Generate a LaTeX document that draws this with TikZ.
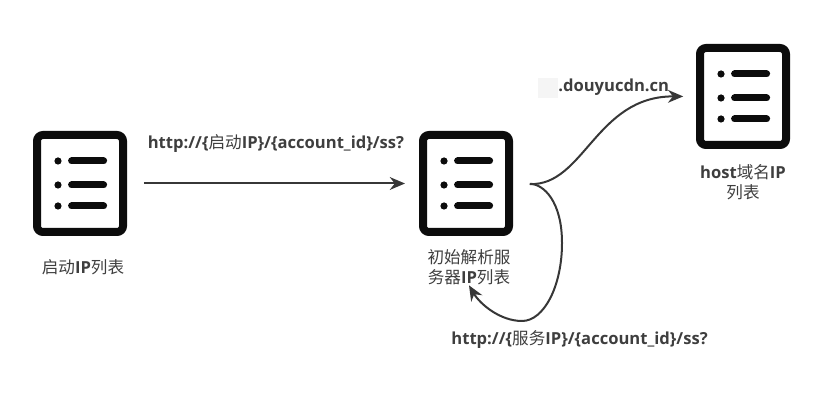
\documentclass[tikz,border=0pt]{standalone}
\usepackage{fontspec}
\setmainfont{Open Sans}
\newfontfamily\cjk[BoldFont={Noto Sans CJK SC}]{Noto Sans CJK SC}
\usetikzlibrary{arrows.meta, positioning, calc}
\definecolor{IconInk}{RGB}{12, 12, 12}
\definecolor{LineInk}{RGB}{55, 55, 55}
\definecolor{TextInk}{RGB}{62, 62, 62}
\newcommand{\zh}[1]{{\cjk #1}}
\newcommand{\listrows}[1]{%
    \foreach \rowy in {0.5625, -0.0375, -0.5625} {
        \fill[IconInk] ($(#1.center)+(-0.55,\rowy)$) circle (0.09);
        \draw[bar] ($(#1.center)+(-0.21,\rowy)$) -- ($(#1.center)+(0.59,\rowy)$);
    }}

\begin{document}
\begin{tikzpicture}[
            iconbox/.style={rectangle, rounded corners=0.15cm, draw=IconInk, line width=0.2cm,
                        minimum width=2.15cm, minimum height=2.425cm, fill=white},
            bar/.style={IconInk, line width=0.175cm, line cap=round},
            caption/.style={text=TextInk, align=center, inner sep=0pt,
                        font=\fontsize{11.8}{14.4}\selectfont\bfseries},
            urltext/.style={text=TextInk, inner sep=0pt, font=\fontsize{11.8}{14}\selectfont\bfseries},
            arrow/.style={-{Stealth[length=0.38cm, width=0.32cm]}, line width=0.05cm, LineInk}
        ]
            \useasboundingbox (0,0) rectangle (20.7,10.05);

            \node[iconbox] (startlist) at (2,5.4625) {};
            \node[iconbox, right=7.3cm of startlist] (initlist) {};
            \node[iconbox, right=4.575cm of initlist, yshift=2.175cm] (hostlist) {};
            \listrows{startlist}
            \listrows{initlist}
            \listrows{hostlist}

            \node[caption, below=0.58cm of startlist, xshift=0.075cm] (startcap) {\zh{启动}IP\zh{列表}};
            \node[caption, below=0.33cm of initlist, xshift=0.075cm] (initcap) {\zh{初始解析服}\\\zh{务器}IP\zh{列表}};
            \node[caption, below=0.38cm of hostlist] (hostcap) {host\zh{域名}IP\\\zh{列表}};

            \node[urltext] (starturl) at (6.9,6.45) {http://\{\zh{启动}IP\}/\{account\_id\}/ss?};
            \node[urltext] (serviceurl) at (14.49,1.56) {http://\{\zh{服务}IP\}/\{account\_id\}/ss?};
            \node[urltext, anchor=west] (hosturl) at (13.95,7.86) {.douyucdn.cn};
            \node[fill=black!4, inner sep=0pt, minimum width=0.5cm, minimum height=0.5cm, left=0cm of hosturl] (maskpatch) {};

            \coordinate (bulge) at (14.05,3.975);
            \coordinate (dip) at (13.05,2.025);

            \draw[arrow, shorten <=0.42cm, shorten >=0.35cm] (startlist) -- (initlist);
            \draw[arrow, shorten <=0.42cm, shorten >=0.32cm] (initlist.east) .. controls (14.6,5.4) and (14.9,7.65) .. (hostlist.west);
            \draw[arrow, shorten <=0.42cm] (initlist.east) .. controls (13.6,5.45) and (14.05,5.0) .. (bulge)
                .. controls (14.05,2.9) and (13.6,2.025) .. (dip)
                .. controls (12.5,2.025) and (12.0,2.45) .. (initcap.south);
        \end{tikzpicture}
\end{document}
